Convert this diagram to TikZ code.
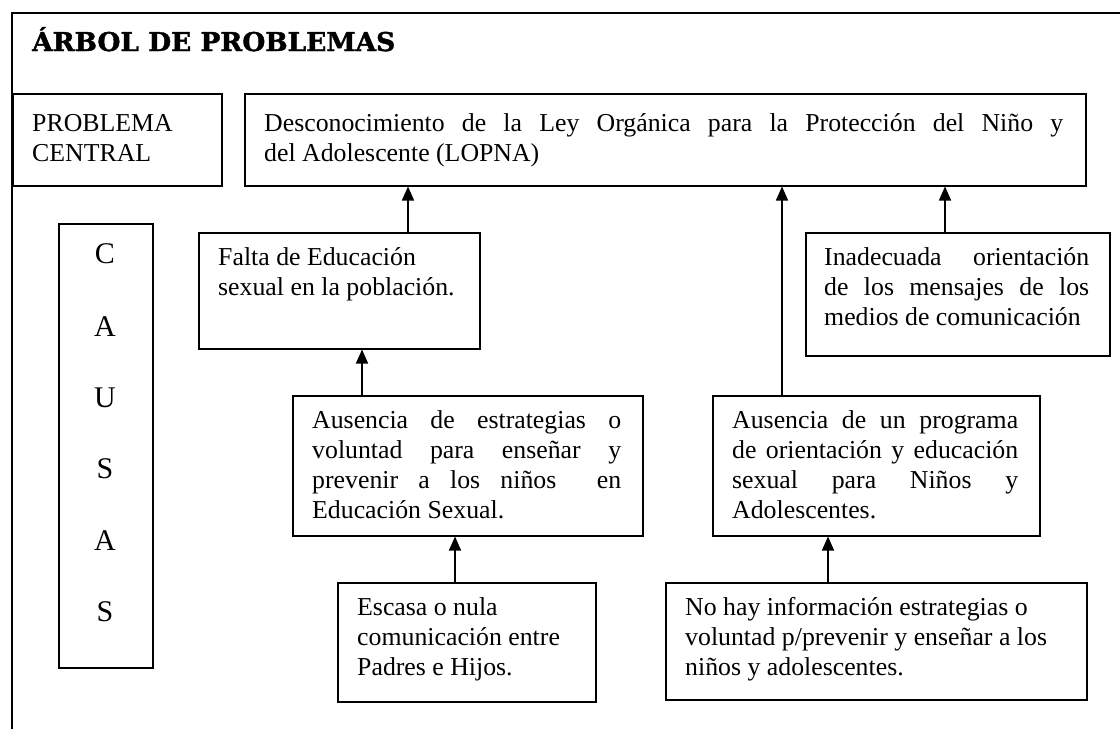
\documentclass[tikz,border=0pt]{standalone}
\usepackage{fontspec}
\usepackage{graphicx}
\setmainfont{Liberation Serif}
\newfontfamily\titlefont[BoldFeatures={FakeBold=1.5}]{DejaVu Serif}
\usetikzlibrary{arrows.meta,calc}
\newcommand\bodyfont{\fontsize{25.8}{30}\selectfont}
\newcommand\jl[2]{\makebox[#1][s]{#2}}
\newcommand\tb[2]{\parbox[t]{#1}{\bodyfont #2}}
\tikzset{
  frame/.style={line width=1.5pt},
  cbox/.style={draw, line width=1.5pt, inner sep=0pt, anchor=north west},
  txt/.style={inner sep=0pt, anchor=base west},
  letter/.style={inner sep=0pt, anchor=base, font=\fontsize{30}{32}\selectfont},
  arr/.style={line width=1.5pt, -{Triangle[length=14pt,width=12pt]}}
}
\begin{document}
\begin{tikzpicture}[x=1pt,y=-1pt]
\useasboundingbox (0,0) rectangle (1120,729);
% outer frame (top and left lines only)
\coordinate (fr) at (1120,13);
\coordinate (fc) at (12,13);
\coordinate (fb) at (12,729);
\draw[frame] (fr) -- (fc) -- (fb);
% title
\node[txt] (title) at (32,51) {\resizebox{363pt}{24pt}{\titlefont\bfseries ÁRBOL DE PROBLEMAS}};
% boxes
\node[cbox, minimum width=209pt, minimum height=92pt] (pc) at (12,93) {};
\node[cbox, minimum width=841pt, minimum height=92pt] (main) at (244,93) {};
\node[cbox, minimum width=94pt, minimum height=444pt] (causas) at (58,223) {};
\node[cbox, minimum width=281pt, minimum height=116pt] (falta) at (198,232) {};
\node[cbox, minimum width=304pt, minimum height=123pt] (inad) at (805,232) {};
\node[cbox, minimum width=350pt, minimum height=140pt] (ausE) at (292,395) {};
\node[cbox, minimum width=327pt, minimum height=140pt] (ausP) at (712,395) {};
\node[cbox, minimum width=258pt, minimum height=119pt] (escasa) at (337,582) {};
\node[cbox, minimum width=421pt, minimum height=117pt] (nohay) at (665,582) {};
% texts
\node[txt] (pct) at (32,131) {\tb{190pt}{PROBLEMA\\CENTRAL}};
\node[txt] (maint) at (264,131) {\tb{799pt}{\jl{799pt}{Desconocimiento de la Ley Orgánica para la Protección del Niño y}\\del Adolescente (LOPNA)}};
\node[txt] (faltat) at (218,265) {\tb{255pt}{Falta de Educación\\sexual en la población.}};
\node[txt] (inadt) at (824,265) {\tb{265pt}{\jl{265pt}{Inadecuada orientación}\\\jl{265pt}{de los mensajes de los}\\medios de comunicación}};
\node[txt] (ausEt) at (312,428) {\tb{309pt}{\jl{309pt}{Ausencia de estrategias o}\\\jl{309pt}{voluntad para enseñar y}\\\jl{309pt}{prevenir a los niños\ \ en}\\Educación Sexual.}};
\node[txt] (ausPt) at (732,428) {\tb{286pt}{\jl{286pt}{Ausencia de un programa}\\\jl{286pt}{de orientación y educación}\\\jl{286pt}{sexual para Niños y}\\Adolescentes.}};
\node[txt] (escasat) at (357,615) {\tb{235pt}{Escasa o nula\\comunicación entre\\Padres e Hijos.}};
\node[txt] (nohayt) at (685,615) {\tb{395pt}{No hay información estrategias o\\voluntad p/prevenir y enseñar a los\\niños y adolescentes.}};
% CAUSAS letters
\foreach \l/\y [count=\i] in {C/263, A/336, U/407, S/478, A/550, S/621}
  \node[letter] (c\i) at (105,\y) {\l};
% connectors
\coordinate (g1) at (408,0);
\coordinate (g2) at (782,0);
\coordinate (g3) at (945,0);
\coordinate (g4) at (362,0);
\coordinate (g5) at (455,0);
\coordinate (g6) at (828,0);
\draw[arr] (falta.north -| g1) -- (main.south -| g1);
\draw[arr] (ausP.north -| g2) -- (main.south -| g2);
\draw[arr] (inad.north -| g3) -- (main.south -| g3);
\draw[arr] (ausE.north -| g4) -- (falta.south -| g4);
\draw[arr] (escasa.north -| g5) -- (ausE.south -| g5);
\draw[arr] (nohay.north -| g6) -- (ausP.south -| g6);
\end{tikzpicture}
\end{document}
